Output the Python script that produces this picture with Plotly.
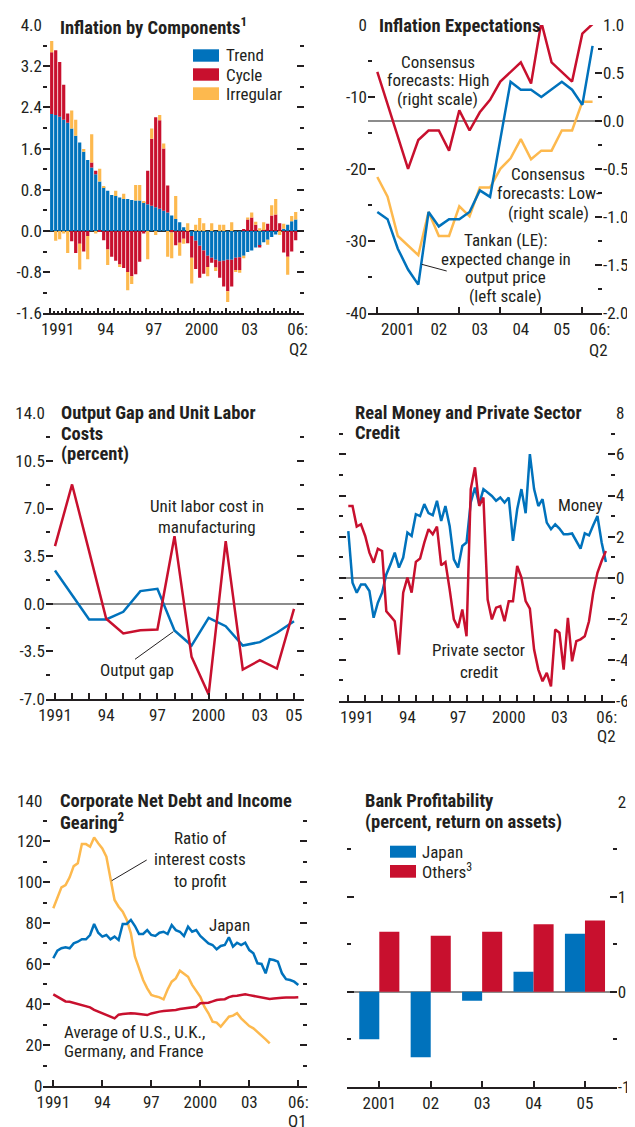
import plotly.graph_objects as go

# page body has an 8px margin: the figure is drawn 8px in from the top-left corner
OFF = 8
W, H = 635 - OFF, 1127 - OFF
FONT = "Liberation Sans Narrow, Arial Narrow, Roboto Condensed, DejaVu Sans Condensed, Liberation Sans, Arial, sans-serif"
TXT = "#231f20"
BLUE = "#0072bc"
RED = "#c8102e"
YEL = "#fdb94e"
ZGRAY = "#8c8c8c"

# ---------------- data ----------------
# Panel 1: Inflation by components, quarterly 1991Q1-2006Q2
p1_trend = [2.27, 2.25, 2.22, 2.16, 2.10, 1.99, 1.85, 1.72, 1.54, 1.38, 1.23, 1.10,
            0.96, 0.85, 0.78, 0.70, 0.68, 0.65, 0.62, 0.62, 0.60, 0.59, 0.59, 0.56,
            0.52, 0.49, 0.46, 0.43, 0.39, 0.36, 0.30, 0.23, 0.17, 0.07, 0.00, -0.10,
            -0.19, -0.29, -0.38, -0.48, -0.52, -0.56, -0.59, -0.58, -0.56, -0.56, -0.52, -0.51,
            -0.48, -0.41, -0.38, -0.32, -0.29, -0.22, -0.17, -0.12, -0.07, 0.00, 0.04, 0.12, 0.19, 0.22]
p1_cycle = [1.20, 1.26, 1.06, 0.68, 0.18, -0.20, -0.43, -0.25, -0.40, -0.10, 0.10, 0.07,
            -0.02, -0.18, -0.36, -0.50, -0.58, -0.65, -0.72, -0.80, -0.88, -0.84, -0.60, -0.05,
            0.65, 1.30, 1.75, 1.72, 1.21, 0.52, -0.03, -0.28, -0.23, -0.15, -0.24, -0.42,
            -0.55, -0.62, -0.45, -0.22, -0.10, -0.15, -0.32, -0.50, -0.61, -0.52, -0.24, -0.25,
            0.02, 0.22, 0.26, 0.12, -0.03, 0.02, 0.14, 0.30, 0.32, 0.15, -0.42, -0.50, -0.40, -0.18]
p1_irreg = [0.22, -0.19, -0.16, -0.05, -0.43, 0.35, 0.31, -0.50, 0.05, -0.45, 0.55, -0.05,
            0.25, 0.02, -0.30, 0.00, 0.10, -0.05, 0.10, -0.35, -0.15, 0.30, 0.30, 0.02,
            -0.55, 0.20, -0.08, 0.10, 0.10, -0.50, -0.50, 0.45, -0.25, -0.10, 0.15, -0.50,
            0.12, 0.25, 0.15, -0.18, 0.15, -0.07, 0.12, 0.12, -0.21, 0.17, -0.02, -0.05,
            -0.05, 0.04, 0.10, 0.06, 0.05, 0.15, -0.10, 0.20, 0.30, -0.08, 0.10, -0.35, 0.10, 0.15]

# Panel 2: Inflation expectations, quarterly 2001Q1-2006Q2
p2_high = [0.51, 0.17, -0.17, -0.50, -0.20, -0.10, -0.10, -0.31, 0.11, -0.10, 0.09, 0.22,
           0.41, 0.51, 0.61, 0.39, 1.03, 0.61, 0.51, 0.41, 0.91, 1.01]
p2_low = [-0.585, -0.79, -1.20, -1.30, -1.40, -0.95, -1.20, -1.20, -0.89, -0.995, -0.695, -0.695,
          -0.50, -0.39, -0.19, -0.40, -0.31, -0.31, -0.10, -0.10, 0.20, 0.20]
p2_tankan = [-26.0, -27.0, -31.1, -34.0, -36.1, -26.0, -28.0, -27.0, -27.0, -26.0, -23.0, -23.9,
             -15.9, -7.9, -9.0, -9.0, -10.0, -9.0, -7.9, -9.0, -11.1, -2.9]

# Panel 3: Output gap and unit labor costs, annual 1991-2005
p3_years = list(range(1991, 2006))
p3_ulc = [4.24, 8.77, 3.85, -1.10, -2.18, -1.94, -1.89, 4.97, -3.90, -6.67, 4.60, -4.83, -4.15, -4.76, -0.37]
p3_gap = [2.45, 0.68, -1.15, -1.15, -0.59, 0.93, 1.10, -1.96, -3.07, -1.03, -1.65, -3.07, -2.82, -2.13, -1.28]

# Panel 4: Real money and private sector credit, quarterly 1991Q1-2006Q2
p4_money = [2.27, -0.24, -0.73, -0.33, -0.33, -0.65, -1.95, -1.22, -0.73, 0.16,
            0.65, 1.22, 0.49, 0.98, 2.20, 2.03, 3.09, 3.00, 3.58, 3.14,
            3.04, 3.74, 2.76, 3.49, 2.52, 0.89, 0.49, 1.54, 1.71, 3.66,
            4.39, 3.58, 4.31, 4.15, 3.98, 3.74, 3.90, 3.66, 3.90, 1.79,
            3.33, 4.31, 3.14, 6.01, 4.31, 3.49, 3.82, 2.68, 2.36, 2.60,
            2.39, 2.11, 2.11, 2.15, 1.79, 1.41, 2.16, 2.06, 2.55, 3.00,
            1.71, 0.76]
p4_credit = [3.49, 3.49, 2.49, 2.60, 2.03, 1.22, 0.73, 1.41, 1.30, -1.63,
             -1.87, -2.12, -3.74, -0.73, 0.00, -0.73, 0.77, 0.93, 1.71, 2.36,
             2.11, 2.49, 0.60, 0.76, -0.57, -2.03, -2.44, -1.55, -2.85, 4.31,
             5.37, 3.49, 3.90, -1.06, -2.03, -1.46, -1.38, -2.12, -1.14, -1.14,
             0.57, 0.00, -1.14, -1.51, -3.50, -4.47, -5.04, -4.63, -5.29, -2.52,
             -2.68, -4.47, -1.95, -4.07, -3.09, -3.00, -2.85, -2.12, -0.73, 0.24,
             0.81, 1.30]

# Panel 5: Corporate net debt and income gearing, quarterly from 1991Q1
p5_japan = [62.7, 66.4, 67.6, 68.1, 67.6, 70.0, 70.8, 72.0, 72.0, 74.1,
            79.5, 75.2, 73.3, 74.1, 72.0, 73.3, 71.6, 79.5, 79.5, 81.5,
            78.5, 74.6, 74.6, 76.5, 74.1, 73.6, 75.2, 75.7, 74.6, 79.0,
            76.5, 75.7, 73.6, 78.2, 75.7, 76.5, 73.6, 71.6, 70.0, 69.2,
            67.1, 68.7, 69.2, 73.0, 68.4, 70.3, 69.2, 70.3, 66.7, 65.1,
            60.2, 59.9, 55.3, 62.2, 61.8, 61.0, 55.3, 52.4, 52.0, 51.2,
            49.6]
p5_avg = [45.0, 43.8, 42.8, 41.5, 41.3, 40.8, 40.2, 39.6, 39.3, 38.6,
          37.4, 36.5, 35.5, 34.5, 34.0, 33.2, 35.0, 35.3, 35.6, 35.7,
          35.6, 35.3, 35.0, 34.8, 35.6, 36.2, 36.5, 36.8, 36.9, 37.0,
          37.3, 37.8, 38.1, 38.5, 38.8, 38.9, 40.6, 40.8, 40.9, 41.5,
          42.2, 42.4, 42.6, 43.6, 44.2, 44.3, 44.6, 45.0, 44.6, 44.2,
          43.8, 43.4, 43.0, 42.7, 42.9, 43.2, 43.3, 43.4, 43.3, 43.4,
          43.5]
p5_ratio = [87.2, 92.9, 97.5, 98.6, 102.4, 107.9, 109.3, 118.7, 118.7, 117.4,
            122.0, 119.1, 116.6, 112.5, 101.1, 91.3, 88.0, 85.5, 81.5, 74.9,
            63.5, 57.7, 52.0, 47.9, 44.7, 44.0, 43.5, 42.5, 47.4, 51.2,
            52.8, 56.6, 55.3, 53.6, 49.6, 46.5, 43.8, 38.9, 35.7, 31.6,
            31.1, 29.1, 31.6, 34.0, 34.5, 35.7, 33.2, 31.1, 29.4, 28.3,
            26.6, 25.0, 22.9, 20.9]

# Panel 6: Bank profitability, annual
p6_years = [2001, 2002, 2003, 2004, 2005]
p6_japan = [-0.50, -0.69, -0.095, 0.21, 0.61]
p6_others = [0.63, 0.59, 0.63, 0.71, 0.75]


def qx(start, n, offset=0.0):
    return [start + offset + 0.25 * i for i in range(n)]


# ---------------- helpers ----------------
def X(px):
    return (px - OFF) / W


def Y(py):
    return 1 - (py - OFF) / H


TICKFONT = dict(family=FONT, size=17, color=TXT)


def xaxis_cfg(dom, rng, vals, text, ticklen=0, minor_vals=None, minor_len=6, anchor="y", overlaying=None, showline=True):
    d = dict(domain=[X(dom[0]), X(dom[1])], range=rng, anchor=anchor, showgrid=False, zeroline=False,
             showline=showline, linecolor=TXT, linewidth=1.5,
             tickmode="array", tickvals=vals, ticktext=text,
             ticks="inside" if ticklen else "", ticklen=max(ticklen, 1), tickwidth=1.5, tickcolor=TXT,
             tickfont=TICKFONT, fixedrange=True)
    if minor_vals:
        d["minor"] = dict(tickmode="array", tickvals=minor_vals, ticks="inside", ticklen=minor_len,
                          tickwidth=1.5, tickcolor=TXT, showgrid=False)
    if overlaying:
        d["overlaying"] = overlaying
    return d


def yaxis_cfg(dom, rng, vals, text, minor_vals, side="left", labels=True, anchor="x", overlaying=None,
              zeroline=False, zlc=ZGRAY):
    d = dict(domain=[Y(dom[1]), Y(dom[0])], range=rng, anchor=anchor, side=side, showgrid=False,
             showline=False, zeroline=zeroline, zerolinecolor=zlc, zerolinewidth=1.5,
             tickmode="array", tickvals=vals, ticktext=text, ticks="inside", ticklen=7, tickwidth=1.5,
             tickcolor=TXT, showticklabels=labels, tickfont=TICKFONT, fixedrange=True,
             minor=dict(tickmode="array", tickvals=minor_vals, ticks="inside", ticklen=4, tickwidth=1.5,
                        tickcolor=TXT, showgrid=False))
    if overlaying:
        d["overlaying"] = overlaying
    return d


fig = go.Figure()
layout = {}

# ---------------- Panel 1 ----------------
p1_x = qx(1991, len(p1_trend), 0.125)
for name, vals, col in (("Trend", p1_trend, BLUE), ("Cycle", p1_cycle, RED), ("Irregular", p1_irreg, YEL)):
    fig.add_trace(go.Bar(x=p1_x, y=vals, marker=dict(color=col, line=dict(width=0)), name=name,
                         xaxis="x", yaxis="y", showlegend=False))
fig.add_trace(go.Scatter(x=[None], y=[None], xaxis="x", yaxis="y7", showlegend=False, hoverinfo="skip"))
p1_dom_x, p1_dom_y = (43, 304), (25, 313.3)
p1_labels = {1991.5: "1991", 1994.5: "94", 1997.5: "97", 2000.5: "2000", 2003.5: "03", 2006.5: "06:"}
p1_qv = [y + q for y in range(1991, 2007) for q in (0.25, 0.5, 0.75) if y + q <= 2006.5]
layout["xaxis"] = xaxis_cfg(p1_dom_x, [1990.581, 2006.894], p1_qv, [p1_labels.get(v, "") for v in p1_qv],
                            ticklen=3, minor_vals=list(range(1991, 2007)), minor_len=6, anchor="y")
p1_yv = [-1.6, -0.8, 0, 0.8, 1.6, 2.4, 3.2, 4.0]
p1_yt = ["-1.6", "-0.8", "0.0", "0.8", "1.6", "2.4", "3.2", "4.0"]
p1_ym = [-1.2, -0.4, 0.4, 1.2, 2.0, 2.8, 3.6]
layout["yaxis"] = yaxis_cfg(p1_dom_y, [-1.6, 4.0], p1_yv, p1_yt, p1_ym, anchor="x", zeroline=True, zlc="#333333")
layout["yaxis7"] = yaxis_cfg(p1_dom_y, [-1.6, 4.0], p1_yv, p1_yt, p1_ym, side="right", labels=False,
                             anchor="x", overlaying="y")

# ---------------- Panel 2 ----------------
p2_x = qx(2001, len(p2_high))
fig.add_trace(go.Scatter(x=p2_x, y=p2_high, mode="lines", line=dict(color=RED, width=2.5),
                         xaxis="x2", yaxis="y2", showlegend=False))
fig.add_trace(go.Scatter(x=p2_x, y=p2_low, mode="lines", line=dict(color=YEL, width=2.5),
                         xaxis="x2", yaxis="y2", showlegend=False))
fig.add_trace(go.Scatter(x=p2_x, y=p2_tankan, mode="lines", line=dict(color=BLUE, width=2.5),
                         xaxis="x2", yaxis="y8", showlegend=False))
p2_dom_x, p2_dom_y = (368, 602), (25, 312.7)
layout["xaxis2"] = xaxis_cfg(p2_dom_x, [2000.773, 2006.48], [2001.5, 2002.5, 2003.5, 2004.5, 2005.5, 2006.43],
                             ["2001", "02", "03", "04", "05", "06:"], ticklen=0,
                             minor_vals=list(range(2001, 2007)), minor_len=6, anchor="y2")
layout["yaxis2"] = yaxis_cfg(p2_dom_y, [-2, 1], [-2, -1.5, -1, -0.5, 0, 0.5, 1],
                             ["-2.0", "-1.5", "-1.0", "-0.5", "0.0", "0.5", "1.0"],
                             [-1.75, -1.25, -0.75, -0.25, 0.25, 0.75], side="right", anchor="x2",
                             zeroline=True)
layout["yaxis8"] = yaxis_cfg(p2_dom_y, [-40, 0], [-40, -30, -20, -10, 0], ["-40", "-30", "-20", "-10", "0"],
                             [-35, -25, -15, -5], side="left", anchor="x2", overlaying="y2")

# ---------------- Panel 3 ----------------
fig.add_trace(go.Scatter(x=p3_years, y=p3_gap, mode="lines", line=dict(color=BLUE, width=2.5),
                         xaxis="x3", yaxis="y3", showlegend=False))
fig.add_trace(go.Scatter(x=p3_years, y=p3_ulc, mode="lines", line=dict(color=RED, width=2.5),
                         xaxis="x3", yaxis="y3", showlegend=False))
fig.add_trace(go.Scatter(x=[None], y=[None], xaxis="x3", yaxis="y9", showlegend=False, hoverinfo="skip"))
p3_dom_x, p3_dom_y = (46, 304), (413.3, 699)
layout["xaxis3"] = xaxis_cfg(p3_dom_x, [1990.473, 2005.586], [1991, 1994, 1997, 2000, 2003, 2005],
                             ["1991", "94", "97", "2000", "03", "05"], ticklen=6,
                             minor_vals=p3_years, minor_len=6, anchor="y3")
p3_yv = [-7, -3.5, 0, 3.5, 7, 10.5, 14]
p3_yt = ["-7.0", "-3.5", "0.0", "3.5", "7.0", "10.5", "14.0"]
p3_ym = [-5.25, -1.75, 1.75, 5.25, 8.75, 12.25]
layout["yaxis3"] = yaxis_cfg(p3_dom_y, [-7, 14], p3_yv, p3_yt, p3_ym, anchor="x3", zeroline=True)
layout["yaxis9"] = yaxis_cfg(p3_dom_y, [-7, 14], p3_yv, p3_yt, p3_ym, side="right", labels=False,
                             anchor="x3", overlaying="y3")

# ---------------- Panel 4 ----------------
p4_x = qx(1991, len(p4_money))
fig.add_trace(go.Scatter(x=p4_x, y=p4_money, mode="lines", line=dict(color=BLUE, width=2.5),
                         xaxis="x4", yaxis="y4", showlegend=False))
fig.add_trace(go.Scatter(x=p4_x, y=p4_credit, mode="lines", line=dict(color=RED, width=2.5),
                         xaxis="x4", yaxis="y4", showlegend=False))
fig.add_trace(go.Scatter(x=[None], y=[None], xaxis="x4", yaxis="y10", showlegend=False, hoverinfo="skip"))
p4_dom_x, p4_dom_y = (338.5, 615), (413.3, 701)
layout["xaxis4"] = xaxis_cfg(p4_dom_x, [1990.42, 2006.79], [1991.5, 1994.5, 1997.5, 2000.5, 2003.5, 2006.3],
                             ["1991", "94", "97", "2000", "03", "06:"], ticklen=0,
                             minor_vals=list(range(1991, 2007)), minor_len=6, anchor="y4")
p4_yv = [-6, -4, -2, 0, 2, 4, 6, 8]
p4_yt = ["-6", "-4", "-2", "0", "2", "4", "6", "8"]
p4_ym = [-5, -3, -1, 1, 3, 5, 7]
layout["yaxis4"] = yaxis_cfg(p4_dom_y, [-6, 8], p4_yv, p4_yt, p4_ym, labels=False, anchor="x4", zeroline=True)
layout["yaxis10"] = yaxis_cfg(p4_dom_y, [-6, 8], p4_yv, p4_yt, p4_ym, side="right", anchor="x4", overlaying="y4")

# ---------------- Panel 5 ----------------
fig.add_trace(go.Scatter(x=qx(1991, len(p5_ratio)), y=p5_ratio, mode="lines", line=dict(color=YEL, width=2.5),
                         xaxis="x5", yaxis="y5", showlegend=False))
fig.add_trace(go.Scatter(x=qx(1991, len(p5_avg)), y=p5_avg, mode="lines", line=dict(color=RED, width=2.5),
                         xaxis="x5", yaxis="y5", showlegend=False))
fig.add_trace(go.Scatter(x=qx(1991, len(p5_japan)), y=p5_japan, mode="lines", line=dict(color=BLUE, width=2.5),
                         xaxis="x5", yaxis="y5", showlegend=False))
fig.add_trace(go.Scatter(x=[None], y=[None], xaxis="x5", yaxis="y11", showlegend=False, hoverinfo="skip"))
p5_dom_x, p5_dom_y = (43.3, 306.7), (800.7, 1086)
layout["xaxis5"] = xaxis_cfg(p5_dom_x, [1990.388, 2006.514], [1991, 1994, 1997, 2000, 2003, 2006],
                             ["1991", "94", "97", "2000", "03", "06:"], ticklen=6, anchor="y5")
p5_yv = list(range(0, 141, 20))
p5_yt = [str(v) for v in p5_yv]
p5_ym = list(range(10, 140, 20))
layout["yaxis5"] = yaxis_cfg(p5_dom_y, [0, 140], p5_yv, p5_yt, p5_ym, anchor="x5")
layout["yaxis11"] = yaxis_cfg(p5_dom_y, [0, 140], p5_yv, p5_yt, p5_ym, side="right", labels=False,
                              anchor="x5", overlaying="y5")

# ---------------- Panel 6 ----------------
fig.add_trace(go.Bar(x=p6_years, y=p6_japan, width=0.39, offset=-0.39, marker=dict(color=BLUE, line=dict(width=0)),
                     xaxis="x6", yaxis="y6", showlegend=False, name="Japan"))
fig.add_trace(go.Bar(x=p6_years, y=p6_others, width=0.39, offset=0.0, marker=dict(color=RED, line=dict(width=0)),
                     xaxis="x13", yaxis="y6", showlegend=False, name="Others"))
fig.add_trace(go.Scatter(x=[None], y=[None], xaxis="x6", yaxis="y12", showlegend=False, hoverinfo="skip"))
p6_dom_x, p6_dom_y = (346.7, 616.7), (801.7, 1086.7)
p6_rng = [2000.366, 2005.617]
layout["xaxis6"] = xaxis_cfg(p6_dom_x, p6_rng, p6_years, ["2001", "02", "03", "04", "05"], ticklen=6, anchor="y6")
layout["xaxis13"] = xaxis_cfg(p6_dom_x, p6_rng, [], [], ticklen=0, anchor="y6", overlaying="x6", showline=False)
layout["xaxis13"]["showticklabels"] = False
p6_yv = [-1, 0, 1, 2]
p6_yt = ["-1", "0", "1", "2"]
p6_ym = [-0.5, 0.5, 1.5]
layout["yaxis6"] = yaxis_cfg(p6_dom_y, [-1, 2], p6_yv, p6_yt, p6_ym, labels=False, anchor="x6", zeroline=True)
layout["yaxis12"] = yaxis_cfg(p6_dom_y, [-1, 2], p6_yv, p6_yt, p6_ym, side="right", anchor="x6", overlaying="y6")

# ---------------- text ----------------
ann = []
shapes = []


def text(x, y, s, size=17, bold=False, xanchor="center"):
    if bold:
        s = "<b>" + s + "</b>"
    ann.append(dict(x=X(x), y=Y(y), xref="paper", yref="paper", text=s, showarrow=False,
                    xanchor=xanchor, yanchor="middle", font=dict(family=FONT, size=size, color=TXT)))


def lines(x, ys, strs, size=17, bold=False, xanchor="center"):
    for yy, s in zip(ys, strs):
        text(x, yy, s, size, bold, xanchor)


def rect(x0, y0, x1, y1, col):
    shapes.append(dict(type="rect", xref="paper", yref="paper", x0=X(x0), x1=X(x1), y0=Y(y1), y1=Y(y0),
                       fillcolor=col, line=dict(width=0)))


def leader(x0, y0, x1, y1):
    shapes.append(dict(type="line", xref="paper", yref="paper", x0=X(x0), x1=X(x1), y0=Y(y0), y1=Y(y1),
                       line=dict(color=TXT, width=1)))


TS = 18.5
# Panel 1
text(58, 26, "Inflation by Components<sup>1</sup>", TS, True, "left")
rect(193, 49.3, 219, 61.7, BLUE)
rect(193, 68.3, 219, 80.7, RED)
rect(193, 87.3, 219, 100, YEL)
text(224, 55.5, "Trend", xanchor="left")
text(224, 74.5, "Cycle", xanchor="left")
text(224, 94, "Irregular", xanchor="left")
text(298, 349, "Q2")

# Panel 2
text(377, 26, "Inflation Expectations", TS, True, "left")
lines(438, [61.7, 80, 99.3], ["Consensus", "forecasts: High", "(right scale)"])
lines(548, [174, 193.3, 212.7], ["Consensus", "forecasts: Low-", "(right scale)"])
lines(505.7, [240, 258.5, 277.3, 296], ["Tankan (LE):", "expected change in", "output price", "(left scale)"])
leader(421.7, 264.3, 446.7, 271)
text(598, 350, "Q2")

# Panel 3
lines(59, [413.3, 433.5, 454], ["Output Gap and Unit Labor", "Costs", "(percent)"], TS, True, "left")
lines(206.7, [506, 526.7], ["Unit labor cost in", "manufacturing"])
text(137, 670, "Output gap")
leader(135, 659.3, 173.3, 631.7)

# Panel 4
lines(353.3, [412.7, 433.3], ["Real Money and Private Sector", "Credit"], TS, True, "left")
text(580, 505, "Money")
lines(478.8, [650, 671.7], ["Private sector", "credit"])
text(606, 736, "Q2")

# Panel 5
lines(57.7, [800.7, 821], ["Corporate Net Debt and Income", "Gearing<sup>2</sup>"], TS, True, "left")
lines(200, [838.3, 859.3, 880.7], ["Ratio of", "interest costs", "to profit"])
leader(146.7, 860, 111.7, 880.7)
text(229.3, 925, "Japan")
lines(61.7, [1031.7, 1050.7], ["Average of U.S., U.K.,", "Germany, and France"], xanchor="left")
text(297, 1121, "Q1")

# Panel 6
lines(362.7, [800.5, 822], ["Bank Profitability", "(percent, return on assets)"], TS, True, "left")
rect(390, 845.7, 416, 857.7, BLUE)
rect(390, 865, 416, 877.7, RED)
text(420, 851.7, "Japan", xanchor="left")
text(420, 871, "Others<sup>3</sup>", xanchor="left")

fig.update_layout(
    width=W, height=H,
    margin=dict(l=0, r=0, t=0, b=0, autoexpand=False),
    paper_bgcolor="white", plot_bgcolor="white",
    showlegend=False, barmode="relative", bargap=0.2,
    font=dict(family=FONT, color=TXT),
    annotations=ann, shapes=shapes,
    **layout,
)

fig.write_html("out.html")
